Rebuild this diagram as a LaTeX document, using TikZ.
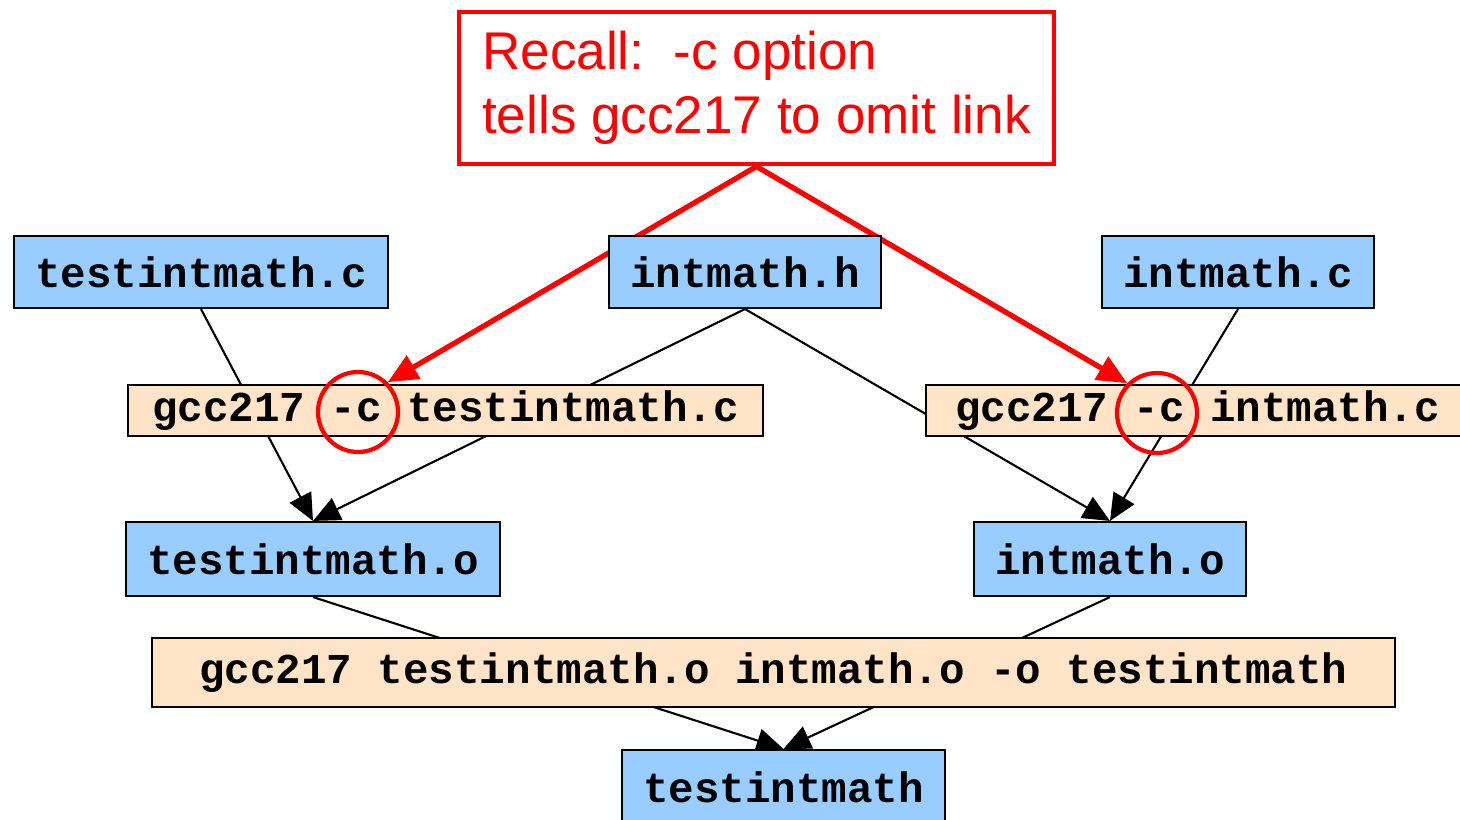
\documentclass[tikz,border=0pt]{standalone}
\usepackage{fontspec}
\setmainfont{Liberation Sans}
\newfontfamily\codefont{Liberation Mono}
\usetikzlibrary{arrows.meta,backgrounds}
\definecolor{fileblue}{RGB}{153,204,255}
\definecolor{cmdtan}{RGB}{255,228,200}

\begin{document}
\begin{tikzpicture}[>={Triangle[length=0.27cm,width=0.24cm]},
	file/.style={draw, semithick, fill=fileblue, inner sep=0, minimum height=0.72cm, font=\codefont\bfseries\fontsize{12.1}{14}\selectfont},
	cmd/.style={draw, fill=cmdtan, inner sep=0, minimum height=0.51cm, font=\codefont\bfseries\fontsize{12.1}{14}\selectfont},
	ring/.style={draw=red, circle, line width=1.2pt, minimum size=0.8cm, inner sep=0},
	recallarrow/.style={red, line width=1.5pt, -{Triangle[length=0.3cm,width=0.26cm]}}]
	\useasboundingbox (0, 0) rectangle (14.6, -8.2);

	\node[draw=red, line width=1.4pt, text=red, align=left, inner sep=0, minimum width=5.95cm, minimum height=1.52cm, font=\fontsize{15.1}{18.2}\selectfont] (recall) at (7.565, -0.88) {Recall:\ \ -c option\\tells gcc217 to omit link};

	\node[file, minimum width=3.74cm] (tc) at (2.01, -2.72) {testintmath.c};
	\node[file, minimum width=2.72cm] (ih) at (7.45, -2.72) {intmath.h};
	\node[file, minimum width=2.72cm] (ic) at (12.38, -2.72) {intmath.c};

	\node[cmd, minimum width=6.35cm] (tcc) at (4.455, -4.105) {gcc217 -c testintmath.c};
	\node[cmd, minimum width=5.43cm] (icc) at (11.975, -4.105) {gcc217 -c intmath.c};
	\node[ring] (rl) at (3.58, -4.12) {};
	\node[ring] (rr) at (11.57, -4.13) {};

	\node[file, minimum width=3.74cm, minimum height=0.74cm] (to) at (3.13, -5.59) {testintmath.o};
	\node[file, minimum width=2.72cm, minimum height=0.74cm] (io) at (11.10, -5.59) {intmath.o};

	\node[cmd, minimum width=12.43cm, minimum height=0.69cm] (lnk) at (7.735, -6.725) {gcc217 testintmath.o intmath.o -o testintmath};

	\node[file, minimum width=3.23cm, minimum height=0.74cm] (t) at (7.835, -7.87) {testintmath};

	\begin{pgfonlayer}{background}
		\draw[semithick, ->] (tc.south) -- (to.north);
		\draw[semithick, ->] (ih.south) -- (to.north);
		\draw[semithick, ->] (ih.south) -- (io.north);
		\draw[semithick, ->] (ic.south) -- (io.north);
		\draw[semithick, ->] (to.south) -- (t.north);
		\draw[semithick, ->] (io.south) -- (t.north);

		\draw[recallarrow] (recall.south) -- (rl.north east);
		\draw[recallarrow] (recall.south) -- (rr.north west);
	\end{pgfonlayer}
\end{tikzpicture}
\end{document}
